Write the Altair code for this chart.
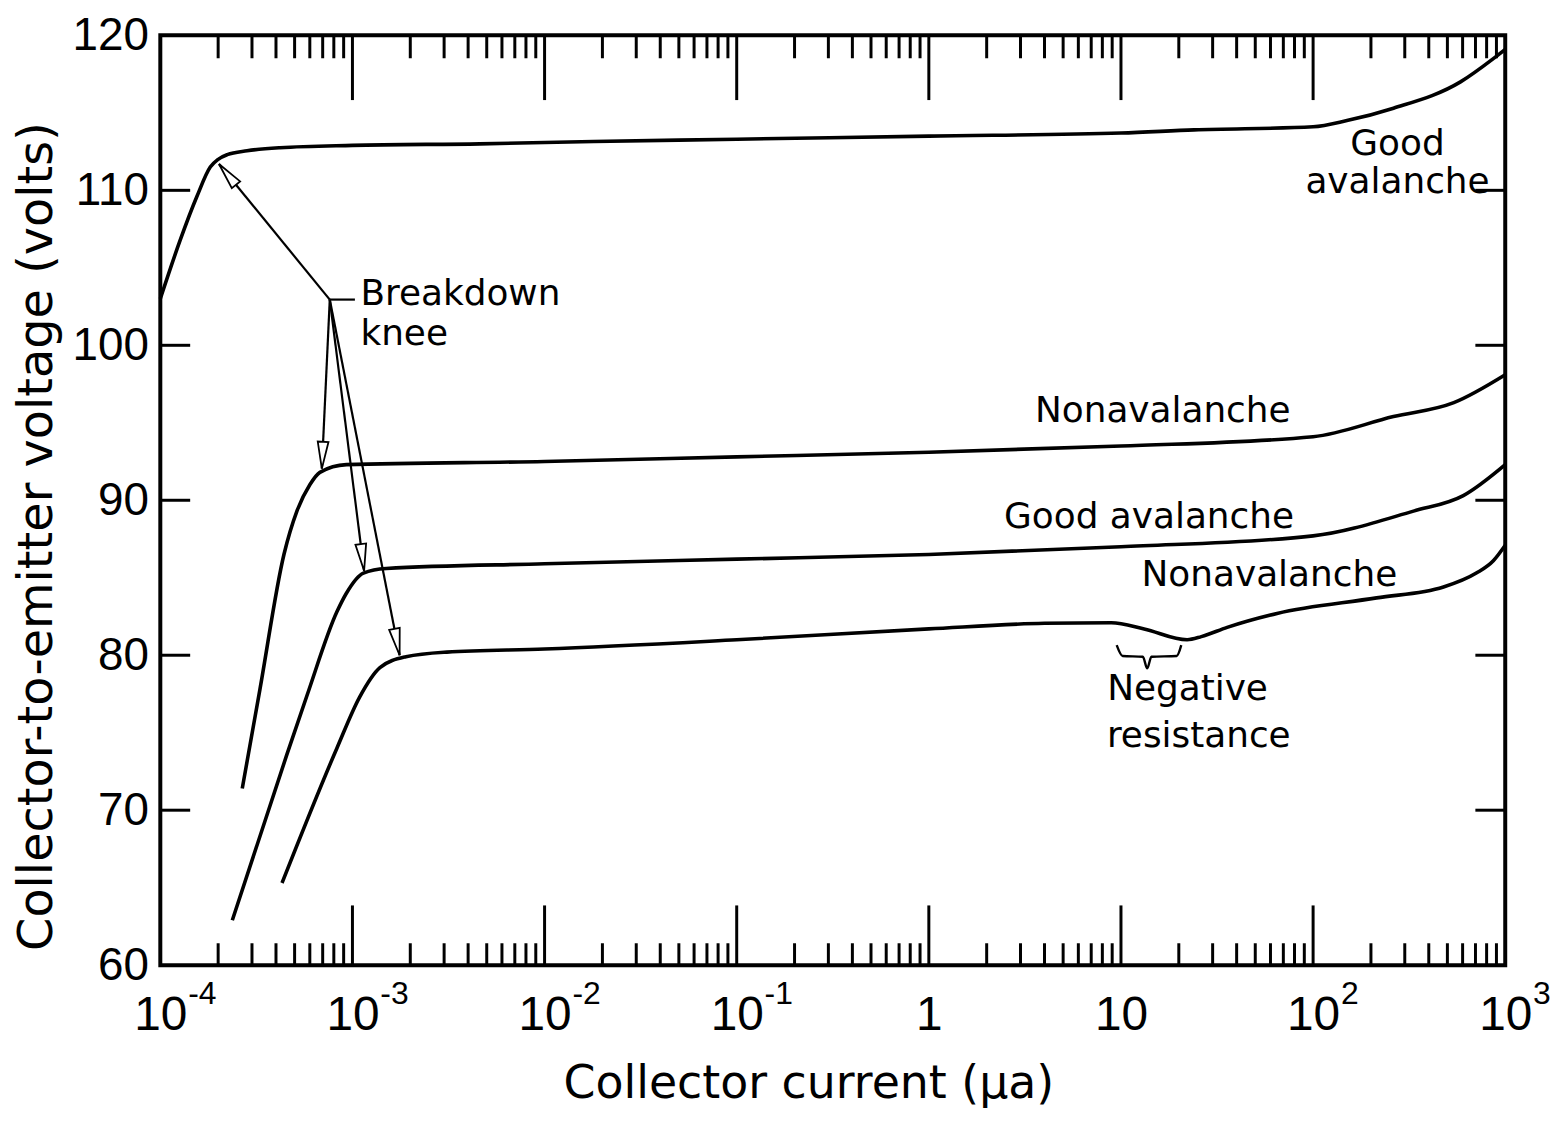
import altair as alt
import pandas as pd

# ---------------- data ----------------
# Curve 1: top "Good avalanche"
A_X = [1e-4, 1.27e-4, 1.55e-4, 1.82e-4, 2.0e-4, 2.23e-4, 2.83e-4, 4.2e-4, 1e-3, 4.6e-3, 1.8e-2,
       0.1, 1, 10, 24, 100, 150, 262, 585, 867, 1000]
A_Y = [103.0, 106.8, 109.6, 111.5, 112.0, 112.3, 112.55, 112.75, 112.9, 113.0, 113.15,
       113.3, 113.5, 113.7, 113.9, 114.1, 114.5, 115.3, 117.0, 118.5, 119.1]
# Curve 2: "Nonavalanche" (~92 V)
B_X = [2.67e-4, 3.3e-4, 4.4e-4, 5.14e-4, 6.0e-4, 6.77e-4, 9.3e-4, 1e-2, 0.1, 1, 10, 100, 262, 540, 1000]
B_Y = [71.4, 77.8, 86.5, 89.3, 91.0, 91.8, 92.3, 92.5, 92.8, 93.1, 93.5, 94.1, 95.4, 96.3, 98.1]
# Curve 3: "Good avalanche" (~86 V)
C_X = [2.37e-4, 4.56e-4, 5.8e-4, 8.3e-4, 9.3e-4, 1.14e-3, 1.5e-3, 1e-2, 0.1, 1, 10, 100, 333, 605, 1000]
C_Y = [62.9, 73.6, 77.4, 82.8, 84.0, 85.3, 85.6, 85.9, 86.2, 86.5, 87.0, 87.7, 89.3, 90.3, 92.3]
# Curve 4: "Nonavalanche" with negative resistance (~80 V)
D_X = [4.3e-4, 8.3e-4, 1.09e-3, 1.39e-3, 1.9e-3, 3.1e-3, 1e-2, 0.1, 1, 4.0, 8.9, 13.2, 22.1,
       26.2, 35.7, 64.9, 214, 477, 707, 867, 1000]
D_Y = [65.3, 74.0, 77.3, 79.2, 79.9, 80.2, 80.4, 81.0, 81.7, 82.06, 82.1, 81.7, 81.0,
       81.2, 81.8, 82.7, 83.7, 84.4, 85.3, 86.1, 87.1]

# "Breakdown knee" arrows
ARROW_ORIGIN = (7.62e-4, 102.95)
LEADER_END = (1.03e-3, 102.95)
TIP_X = [2.02e-4, 6.93e-4, 1.15e-3, 1.76e-3]
TIP_Y = [111.7, 92.04, 85.45, 80.0]
TIP_ANGLE = [320.8, 182.7, 172.9, 168.9]

# brace under "Negative resistance"
BRACE_X = [9.5, 10.2, 13.0, 13.7, 14.4, 19.5, 20.6]
BRACE_Y = [80.65, 79.95, 79.9, 79.15, 79.9, 79.95, 80.65]

# annotation texts
LABELS = ["Breakdown", "knee", "Good", "avalanche", "Nonavalanche", "Good avalanche",
          "Nonavalanche", "Negative", "resistance"]
LABEL_X = [1.1e-3, 1.1e-3, 275, 275, 16.5, 14.0, 59.2, 22.2, 25.4]
LABEL_Y = [102.59, 100.03, 112.3, 109.82, 95.03, 88.18, 84.47, 77.11, 74.1]
LABEL_ALIGN = ["left", "left", "center", "center", "center", "center", "center", "center", "center"]

# axes
X_DOMAIN = [1e-4, 1e3]
Y_DOMAIN = [60, 120]
X_TICKS = [1e-4, 1e-3, 1e-2, 1e-1, 1, 10, 100, 1000]
X_BASE_LABELS = ["10", "10", "10", "10", "1", "10", "10", "10"]
X_EXPONENTS = ["-4", "-3", "-2", "-1", "", "", "2", "3"]
Y_TICKS = [60, 70, 80, 90, 100, 110, 120]
Y_INNER_TICKS = [70, 80, 90, 100, 110]
X_MAJOR_INNER = [1e-3, 1e-2, 1e-1, 1, 10, 100]
X_MINOR = [m * 10.0 ** d for d in range(-4, 3) for m in range(2, 10)]

# ---------------- layout ----------------
W, H = 1351, 934
FONT = "DejaVu Sans"
NUM_FONT = "Liberation Sans"

xs = alt.Scale(type="log", domain=X_DOMAIN, nice=False)
ys = alt.Scale(domain=Y_DOMAIN, nice=False, zero=False)

label_expr = "[" + ",".join(f"'{s}'" for s in X_BASE_LABELS) + "][round(log(datum.value)/LN10)+4]"

x_axis = alt.Axis(
    values=X_TICKS, labelExpr=label_expr, ticks=False, tickSize=0, grid=False, domain=False,
    labelFont=NUM_FONT, labelFontSize=48, labelColor="black", labelPadding=27,
    labelAlign="center", labelFlush=False, labelOverlap=False,
    title="Collector  current  (μa)", titleFont=FONT, titleFontSize=46, titleFontWeight="normal",
    titleColor="black", titleX=651, titleY=133, titleAlign="center", titleBaseline="alphabetic",
)
y_axis = alt.Axis(
    values=Y_TICKS, ticks=False, tickSize=0, grid=False, domain=False,
    labelFont=NUM_FONT, labelFontSize=46, labelColor="black", labelPadding=12,
    labelOverlap=False, labelFlush=False,
    title="Collector-to-emitter voltage (volts)", titleFont=FONT, titleFontSize=48,
    titleFontWeight="normal", titleColor="black", titleAngle=270, titleX=-123, titleY=503,
    titleAlign="center", titleBaseline="middle",
)


def X(field):
    return alt.X(field, type="quantitative", scale=xs, axis=x_axis)


def Y(field):
    return alt.Y(field, type="quantitative", scale=ys, axis=y_axis)


rows = []
for name, xv, yv in [("A", A_X, A_Y), ("B", B_X, B_Y), ("C", C_X, C_Y), ("D", D_X, D_Y)]:
    for i, (a, b) in enumerate(zip(xv, yv)):
        rows.append({"curve": name, "i": i, "x": a, "y": b})
curves_df = pd.DataFrame(rows)

curves = alt.Chart(curves_df).mark_line(
    interpolate="monotone", strokeWidth=3.6, color="black"
).encode(
    x=X("x"), y=Y("y"), detail="curve:N", order="i:Q"
)

arrow_rows = []
for k, (tx, ty) in enumerate(zip(TIP_X, TIP_Y)):
    arrow_rows.append({"seg": k, "i": 0, "x": ARROW_ORIGIN[0], "y": ARROW_ORIGIN[1]})
    arrow_rows.append({"seg": k, "i": 1, "x": tx, "y": ty})
arrow_rows.append({"seg": 9, "i": 0, "x": ARROW_ORIGIN[0], "y": ARROW_ORIGIN[1]})
arrow_rows.append({"seg": 9, "i": 1, "x": LEADER_END[0], "y": LEADER_END[1]})
arrows = alt.Chart(pd.DataFrame(arrow_rows)).mark_line(strokeWidth=2.2, color="black").encode(
    x=X("x"), y=Y("y"), detail="seg:N", order="i:Q"
)

heads_df = pd.DataFrame({"x": TIP_X, "y": TIP_Y, "angle": TIP_ANGLE})
heads = alt.Chart(heads_df).mark_point(
    shape="M0,0L0.9,4.5L-0.9,4.5Z", size=144, filled=True, fill="white",
    stroke="black", strokeWidth=1.8, opacity=1
).encode(
    x=X("x"), y=Y("y"), angle=alt.Angle("angle:Q", scale=None)
)

brace_df = pd.DataFrame({"x": BRACE_X, "y": BRACE_Y, "i": list(range(len(BRACE_X)))})
brace = alt.Chart(brace_df).mark_line(strokeWidth=2.4, color="black", interpolate="monotone").encode(
    x=X("x"), y=Y("y"), order="i:Q"
)

text_df = pd.DataFrame({"t": LABELS, "x": LABEL_X, "y": LABEL_Y, "al": LABEL_ALIGN})
texts_left = alt.Chart(text_df[text_df.al == "left"]).mark_text(
    font=FONT, fontSize=36, align="left", baseline="alphabetic", color="black"
).encode(x=X("x"), y=Y("y"), text="t:N")
texts_center = alt.Chart(text_df[text_df.al == "center"]).mark_text(
    font=FONT, fontSize=36, align="center", baseline="alphabetic", color="black"
).encode(x=X("x"), y=Y("y"), text="t:N")

# superscript exponents of the x tick labels
exp_df = pd.DataFrame({"v": X_TICKS, "e": X_EXPONENTS})
exp_df = exp_df[exp_df.e != ""]
exponents = alt.Chart(exp_df).mark_text(
    font=NUM_FONT, fontSize=32, align="left", baseline="alphabetic", color="black", dx=28
).encode(x=X("v"), y=alt.value(H + 39), text="e:N")

# inward tick marks on all four sides
minor_df = pd.DataFrame({"v": X_MINOR})
major_df = pd.DataFrame({"v": X_MAJOR_INNER})
yt_df = pd.DataFrame({"v": Y_INNER_TICKS})
tick_style = dict(color="black", strokeWidth=3)
bottom_minor = alt.Chart(minor_df).mark_rule(**tick_style).encode(
    x=X("v"), y=alt.value(H), y2=alt.value(H - 22))
top_minor = alt.Chart(minor_df).mark_rule(**tick_style).encode(
    x=X("v"), y=alt.value(0), y2=alt.value(23))
bottom_major = alt.Chart(major_df).mark_rule(**tick_style).encode(
    x=X("v"), y=alt.value(H), y2=alt.value(H - 60))
top_major = alt.Chart(major_df).mark_rule(**tick_style).encode(
    x=X("v"), y=alt.value(0), y2=alt.value(65))
left_ticks = alt.Chart(yt_df).mark_rule(**tick_style).encode(
    y=Y("v"), x=alt.value(0), x2=alt.value(30))
right_ticks = alt.Chart(yt_df).mark_rule(**tick_style).encode(
    y=Y("v"), x=alt.value(W), x2=alt.value(W - 30))

chart = alt.layer(
    curves, arrows, heads, brace, texts_left, texts_center, exponents,
    bottom_minor, top_minor, bottom_major, top_major, left_ticks, right_ticks,
).properties(
    width=W, height=H,
    autosize=alt.AutoSizeParams(type="none"),
    padding={"left": 153, "top": 25, "right": 52, "bottom": 142},
    background="white",
).configure_view(
    stroke="black", strokeWidth=4
)

chart.save("out.html", embed_options={"renderer": "svg", "actions": False})
